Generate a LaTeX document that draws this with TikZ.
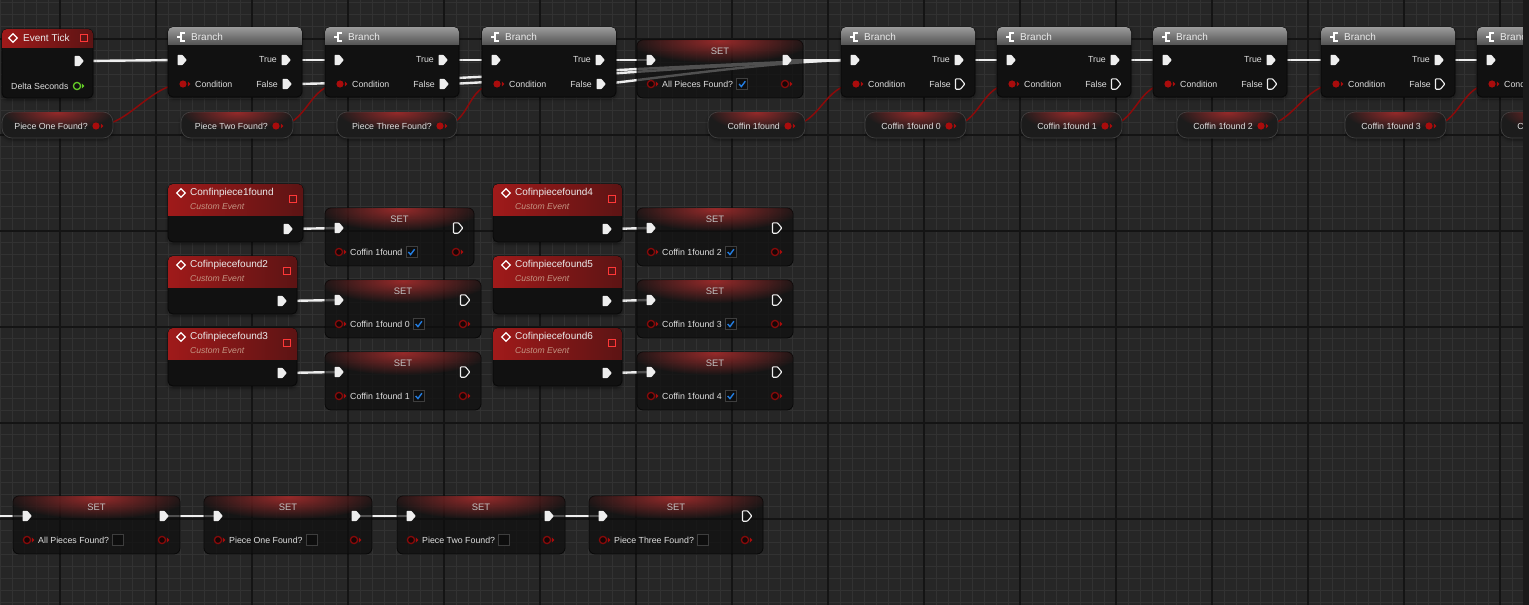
\documentclass[tikz,border=0pt]{standalone}
\usepackage{fontspec}
\setmainfont{Liberation Sans}
\usepackage{tikz}
\usetikzlibrary{positioning,shadows.blur,fadings}
\definecolor{canvasgrey}{RGB}{38,38,38}
\definecolor{gridthin}{RGB}{50,50,50}
\definecolor{gridthick}{RGB}{20,20,20}
\definecolor{nodebody}{RGB}{17,17,17}
\definecolor{nodeedge}{RGB}{8,8,8}
\definecolor{setbody}{RGB}{14,14,14}
\definecolor{varbody}{RGB}{28,28,28}
\definecolor{varedge}{RGB}{64,64,64}
\definecolor{brtop}{RGB}{155,155,155}
\definecolor{brbot}{RGB}{86,86,86}
\definecolor{evred}{RGB}{160,26,26}
\definecolor{evdark}{RGB}{92,20,20}
\definecolor{glowred}{RGB}{150,42,42}
\definecolor{evsubtxt}{RGB}{196,150,132}
\definecolor{sqred}{RGB}{255,55,55}
\definecolor{execwhite}{RGB}{238,238,238}
\definecolor{wirered}{RGB}{140,10,10}
\definecolor{pinred}{RGB}{170,12,12}
\definecolor{pinring}{RGB}{135,10,10}
\definecolor{pinhole}{RGB}{22,6,6}
\definecolor{tickgreen}{RGB}{100,205,40}
\definecolor{checkblue}{RGB}{35,125,225}
\definecolor{boxfill}{RGB}{14,14,14}
\definecolor{boxedge}{RGB}{62,62,62}
\definecolor{lbltxt}{RGB}{222,222,222}
\definecolor{titletxt}{RGB}{235,235,235}
\definecolor{settxt}{RGB}{195,195,195}
\definecolor{scrollbar}{RGB}{26,26,26}
\pgfdeclarelayer{front}
\pgfsetlayers{main,front}
\tikzfading[name=glowfade, inner color=transparent!0, outer color=transparent!100]
\tikzset{
  bpbody/.style={rectangle, anchor=north west, inner sep=0pt, outer sep=0pt,
                 rounded corners=5pt, fill=nodebody, draw=nodeedge, line width=0.8pt,
                 blur shadow={shadow xshift=0pt, shadow yshift=-2pt,
                              shadow blur radius=3pt, shadow opacity=45}},
  setnode/.style={rectangle, anchor=north west, inner sep=0pt, outer sep=0pt,
                  rounded corners=6pt, fill=setbody, fill opacity=0.7,
                  draw=nodeedge, line width=0.8pt},
  varnode/.style={rectangle, anchor=north west, inner sep=0pt, outer sep=0pt,
                  rounded corners=10pt, fill=varbody, draw=varedge, line width=0.7pt,
                  blur shadow={shadow xshift=0pt, shadow yshift=-2pt,
                               shadow blur radius=3pt, shadow opacity=45}},
  pinlbl/.style={font=\fontsize{8.8}{10}\selectfont, text=lbltxt, inner sep=0pt},
  hdrlbl/.style={font=\fontsize{10}{11}\selectfont, text=titletxt, inner sep=0pt},
  evsub/.style={font=\fontsize{8.6}{10}\selectfont\itshape, text=evsubtxt, inner sep=0pt},
  settitle/.style={font=\fontsize{9.4}{11}\selectfont, text=settxt, inner sep=0pt},
  execwire/.style={draw=execwhite, line width=2.4pt},
  datawire/.style={draw=wirered, line width=1.5pt},
  execfill/.style={fill=execwhite},
  exechollow/.style={draw=execwhite, line width=1.1pt},
  datafill/.style={fill=pinred},
  datahollow/.style={draw=pinring, fill=pinhole, line width=1.3pt},
  chkbox/.style={rectangle, minimum size=11pt, inner sep=0pt, fill=boxfill,
                 draw=boxedge, line width=0.6pt},
  gridminor/.style={draw=gridthin, line width=1pt},
  gridmajor/.style={draw=gridthick, line width=1.6pt},
}
% pins
\newcommand{\execpin}[2]{%
  \path[#2, shift={(#1)}, rounded corners=0.8pt]
    (-4.5,-5.2) -- (0.4,-5.2) -- (4.8,0) -- (0.4,5.2) -- (-4.5,5.2) -- cycle;}
\newcommand{\datapin}[2]{%
  \path[#2, shift={(#1)}] (0,0) circle (3.6);
  \fill[pinred, shift={(#1)}] (4.8,-2.6) -- (7.4,0) -- (4.8,2.6) -- cycle;}
% blueprint nodes
\newcommand{\bpbranch}[4]{% name, x, y, false pin
  \node[bpbody, minimum width=134pt, minimum height=70pt] (#1) at (#2,#3) {};
  \begin{scope}
    \clip[rounded corners=5pt] (#1.north west) rectangle (#1.south east);
    \shade[top color=brtop, bottom color=brbot] (#1.north west) rectangle +(134,17);
  \end{scope}
  \draw[white, line width=1.3pt, shift={({#2+13},{#3+10})}]
    (4,-4) -- (0,-4) -- (0,4) -- (4,4) (-4,0) -- (0,0);
  \node[hdrlbl, anchor=west] (#1-t) at ({#2+23},{#3+10}) {Branch};
  \coordinate (#1-in) at ({#2+14},{#3+33});
  \coordinate (#1-true) at ({#2+118},{#3+33});
  \coordinate (#1-cond) at ({#2+15},{#3+57});
  \coordinate (#1-false) at ({#2+119},{#3+57});
  \node[pinlbl, anchor=east] (#1-lt) at ({#2+109},{#3+33}) {True};
  \node[pinlbl, anchor=east] (#1-lf) at ({#2+110},{#3+57}) {False};
  \node[pinlbl, anchor=west] (#1-lc) at ({#2+27},{#3+57}) {Condition};
  \execpin{#1-in}{execfill}
  \execpin{#1-true}{execfill}
  \execpin{#1-false}{#4}
  \datapin{#1-cond}{datafill}}
\newcommand{\bpevent}[5]{% name, x, y, width, title
  \node[bpbody, minimum width=#4pt, minimum height=58pt] (#1) at (#2,#3) {};
  \begin{scope}
    \clip[rounded corners=5pt] (#1.north west) rectangle (#1.south east);
    \shade[left color=evred, right color=evdark] (#1.north west) rectangle +(#4,31);
  \end{scope}
  \draw[white, line width=1.3pt, shift={({#2+13},{#3+9})}]
    (0,-4.3) -- (4.3,0) -- (0,4.3) -- (-4.3,0) -- cycle;
  \node[hdrlbl, anchor=west] (#1-t) at ({#2+22},{#3+9}) {#5};
  \node[evsub, anchor=west] (#1-s) at ({#2+22},{#3+23}) {Custom Event};
  \draw[sqred, fill=evdark, line width=1.1pt] ({#2+#4-13.5},{#3+11.5}) rectangle +(7,7);
  \coordinate (#1-out) at ({#2+#4-15},{#3+45});
  \execpin{#1-out}{execfill}}
\newcommand{\bpset}[7]{% name, x, y, width, variable, check colour, exec out
  \node[setnode, minimum width=#4pt, minimum height=58pt] (#1) at (#2,#3) {};
  \begin{scope}
    \clip[rounded corners=6pt] (#1.north west) rectangle (#1.south east);
    \fill[glowred, path fading=glowfade] ({#2+#4/2},{#3+1}) ellipse [x radius={#4*0.55}, y radius=22];
  \end{scope}
  \node[settitle] (#1-t) at ({#2+#4/2},{#3+11}) {SET};
  \coordinate (#1-in) at ({#2+14},{#3+20});
  \coordinate (#1-out) at ({#2+#4-16},{#3+20});
  \coordinate (#1-vin) at ({#2+14},{#3+44});
  \coordinate (#1-vout) at ({#2+#4-18},{#3+44});
  \node[pinlbl, anchor=west] (#1-l) at ({#2+25},{#3+44}) {#5};
  \node[chkbox, right=3pt of #1-l] (#1-c) {};
  \draw[draw=#6, line width=1.4pt, shift={(#1-c.center)}] (-3,0) -- (-0.8,2.6) -- (3.2,-2.8);
  \execpin{#1-in}{execfill}
  \execpin{#1-out}{#7}
  \datapin{#1-vin}{datahollow}
  \datapin{#1-vout}{datahollow}}
\newcommand{\bpvar}[5]{% name, x, y, width, variable
  \node[varnode, minimum width=#4pt, minimum height=26pt] (#1) at (#2,#3) {};
  \begin{scope}
    \clip[rounded corners=10pt] (#1.north west) rectangle (#1.south east);
    \fill[glowred, path fading=glowfade] ({#2+#4/2},{#3}) ellipse [x radius={#4*0.5}, y radius=18];
  \end{scope}
  \coordinate (#1-out) at ({#2+#4-17},{#3+14});
  \node[pinlbl, anchor=east] (#1-l) at ({#2+#4-25},{#3+14}) {#5};
  \datapin{#1-out}{datafill}}

\begin{document}
\begin{tikzpicture}[x=1pt, y=-1pt, node distance=3pt]
  \useasboundingbox (0,0) rectangle (1529,605);
  % graph background
  \fill[canvasgrey] (0,0) rectangle (1529,605);
  \foreach \gx in {0,12,...,1524} \draw[gridminor] (\gx,0) -- (\gx,605);
  \foreach \gy in {2.7,14.7,...,605} \draw[gridminor] (0,\gy) -- (1529,\gy);
  \foreach \gx in {60,156,...,1500} \draw[gridmajor] (\gx,0) -- (\gx,605);
  \foreach \gy in {38.7,134.7,...,560} \draw[gridmajor] (0,\gy) -- (1529,\gy);

  \begin{pgfonlayer}{front}
  % event tick
  \node[bpbody, minimum width=91pt, minimum height=69pt] (tick) at (2,29) {};
  \begin{scope}
    \clip[rounded corners=5pt] (tick.north west) rectangle (tick.south east);
    \shade[left color=evred, right color=evdark] (tick.north west) rectangle +(91,18);
  \end{scope}
  \draw[white, line width=1.3pt, shift={(13,38)}] (0,-4.3) -- (4.3,0) -- (0,4.3) -- (-4.3,0) -- cycle;
  \node[hdrlbl, anchor=west] (tick-t) at (23,38) {Event Tick};
  \draw[sqred, fill=evdark, line width=1.1pt] (80.5,34.5) rectangle +(7,7);
  \coordinate (tick-out) at (79,61);
  \coordinate (tick-delta) at (77,86);
  \node[pinlbl, anchor=west] (tick-l) at (11,86) {Delta Seconds};
  \execpin{tick-out}{execfill}
  \draw[tickgreen, line width=1.3pt] (tick-delta) circle (3.6);
  \fill[tickgreen, shift={(tick-delta)}] (4.8,-2.6) -- (7.4,0) -- (4.8,2.6) -- cycle;

  % branch chain
  \bpbranch{br1}{168}{27}{execfill}
  \bpbranch{br2}{325}{27}{execfill}
  \bpbranch{br3}{482}{27}{execfill}
  \bpset{setall}{637}{40}{166}{All Pieces Found?}{checkblue}{execfill}
  \bpbranch{br4}{841}{27}{exechollow}
  \bpbranch{br5}{997}{27}{exechollow}
  \bpbranch{br6}{1153}{27}{exechollow}
  \bpbranch{br7}{1321}{27}{exechollow}
  \bpbranch{br8}{1477}{27}{exechollow}

  % getters
  \bpvar{pone}{2}{112}{111}{Piece One Found?}
  \bpvar{ptwo}{181}{112}{112}{Piece Two Found?}
  \bpvar{pthree}{337}{112}{120}{Piece Three Found?}
  \bpvar{cof}{708}{112}{97}{Coffin 1found}
  \bpvar{cofa}{865}{112}{101}{Coffin 1found 0}
  \bpvar{cofb}{1021}{112}{101}{Coffin 1found 1}
  \bpvar{cofc}{1177}{112}{101}{Coffin 1found 2}
  \bpvar{cofd}{1345}{112}{101}{Coffin 1found 3}
  \bpvar{cofe}{1501}{112}{101}{Coffin 1found 4}

  % custom events and their setters
  \bpevent{ce1}{168}{184}{135}{Confinpiece1found}
  \bpevent{ce2}{168}{256}{129}{Cofinpiecefound2}
  \bpevent{ce3}{168}{328}{129}{Cofinpiecefound3}
  \bpevent{ce4}{493}{184}{129}{Cofinpiecefound4}
  \bpevent{ce5}{493}{256}{129}{Cofinpiecefound5}
  \bpevent{ce6}{493}{328}{129}{Cofinpiecefound6}
  \bpset{s1}{325}{208}{149}{Coffin 1found}{checkblue}{exechollow}
  \bpset{s2}{325}{280}{156}{Coffin 1found 0}{checkblue}{exechollow}
  \bpset{s3}{325}{352}{156}{Coffin 1found 1}{checkblue}{exechollow}
  \bpset{s4}{637}{208}{156}{Coffin 1found 2}{checkblue}{exechollow}
  \bpset{s5}{637}{280}{156}{Coffin 1found 3}{checkblue}{exechollow}
  \bpset{s6}{637}{352}{156}{Coffin 1found 4}{checkblue}{exechollow}

  % reset row
  \bpset{sa}{13}{496}{167}{All Pieces Found?}{boxfill}{execfill}
  \bpset{sb}{204}{496}{168}{Piece One Found?}{boxfill}{execfill}
  \bpset{sc}{397}{496}{168}{Piece Two Found?}{boxfill}{execfill}
  \bpset{sd}{589}{496}{174}{Piece Three Found?}{boxfill}{exechollow}

  \fill[scrollbar] (1523,0) rectangle (1529,605);
  \end{pgfonlayer}

  % wires (under the nodes)
  \coordinate (feed) at (-4,516);
  \draw[execwire] (tick-out) -- (br1-in);
  \foreach \a/\b in {br1/br2, br2/br3, br4/br5, br5/br6, br6/br7, br7/br8}
    \draw[execwire] (\a-true) -- (\b-in);
  \draw[execwire] (br3-true) -- (setall-in);
  \draw[execwire] (setall-out) -- (br4-in);
  \draw[execwire] (br1-false) .. controls +(100,0) and +(-80,0) .. (br4-in);
  \draw[execwire] (br2-false) .. controls +(40,0) and +(-80,0) .. (br4-in);
  \draw[execwire] (br3-false) .. controls +(15,0) and +(-80,0) .. (br4-in);
  \foreach \v/\b in {pone/br1, ptwo/br2, pthree/br3, cof/br4, cofa/br5, cofb/br6, cofc/br7, cofd/br8}
    \draw[datawire] (\v-out) .. controls +(32,0) and +(-32,0) .. (\b-cond);
  \foreach \e/\s in {ce1/s1, ce2/s2, ce3/s3, ce4/s4, ce5/s5, ce6/s6}
    \draw[execwire] (\e-out) -- (\s-in);
  \draw[execwire] (feed) -- (sa-in);
  \foreach \a/\b in {sa/sb, sb/sc, sc/sd}
    \draw[execwire] (\a-out) -- (\b-in);
\end{tikzpicture}
\end{document}
